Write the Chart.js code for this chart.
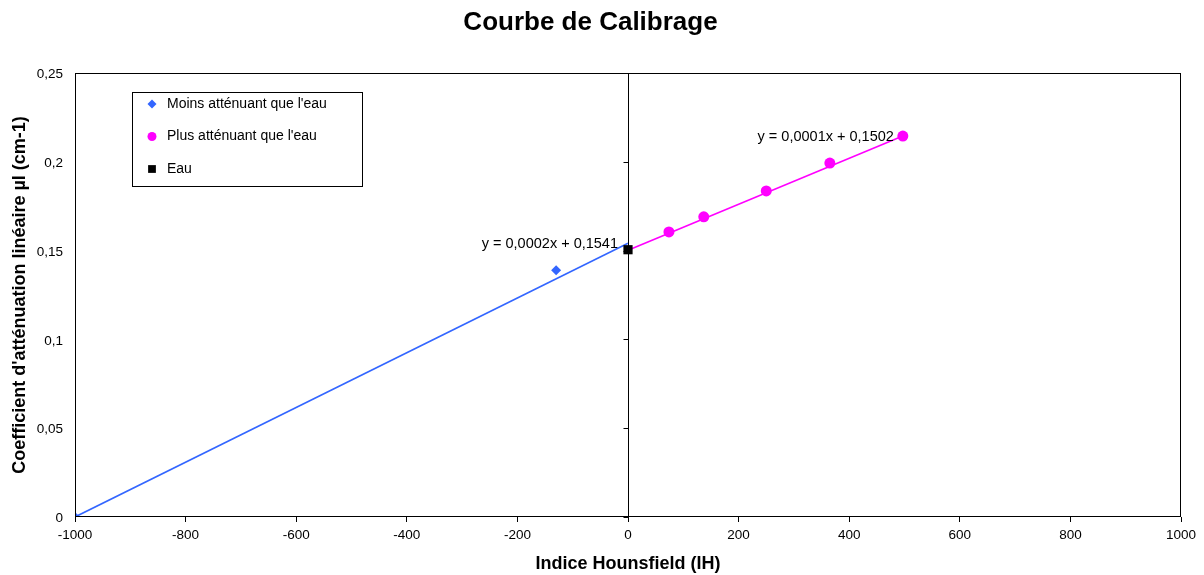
<!DOCTYPE html>
<html>
<head>
<meta charset="utf-8">
<script src="https://cdn.jsdelivr.net/npm/chart.js@4/dist/chart.umd.min.js"></script>
<style>
  html, body { margin: 0; padding: 0; background: #fff; }
  #wrap { width: 1204px; height: 575px; }
</style>
</head>
<body>
<div id="wrap"><canvas id="calib" width="1204" height="575"></canvas></div>
<script>
// data
var lessX = [-1000, -130];
var lessY = [0.0, 0.139];
var moreX = [74, 137, 250, 365, 497];
var moreY = [0.1605, 0.169, 0.1836, 0.1993, 0.2145];
var waterX = [0];
var waterY = [0.1505];
// trend line end points (Excel linear trend)
var lessTrendX = [-1000, 0];
var lessTrendY = [0.0, 0.1541];
var moreTrendX = [0, 497];
var moreTrendY = [0.1502, 0.2145];
var lessEq = "y = 0,0002x + 0,1541";
var moreEq = "y = 0,0001x + 0,1502";
var xTicks = [-1000, -800, -600, -400, -200, 0, 200, 400, 600, 800, 1000];
var yTicks = [0, 0.05, 0.1, 0.15, 0.2, 0.25];

var BLUE = "#3366FF";
var PINK = "#FF00FF";
var FONT = "'Liberation Sans', Arial, sans-serif";

function pts(xs, ys) {
    var out = [];
    for (var i = 0; i < xs.length; i++) out.push({x: xs[i], y: ys[i]});
    return out;
}

function fmt(v) {
    return String(Number(v.toFixed(2))).replace('.', ',');
}

Chart.defaults.font.family = FONT;
Chart.defaults.font.size = 13.5;
Chart.defaults.color = "#000";

// plot area frame, y axis through x = 0, equations and legend box
var excelBits = {
    id: 'excelBits',
    afterDatasetsDraw: function (chart) {
        var ctx = chart.ctx;
        var a = chart.chartArea;
        var xs = chart.scales.x, ys = chart.scales.y;
        ctx.save();
        ctx.strokeStyle = "#000";
        ctx.lineWidth = 1;
        ctx.strokeRect(a.left + 0.5, a.top + 0.5, a.right - a.left - 1, a.bottom - a.top - 1);

        // vertical axis crosses at 0
        var x0 = Math.round(xs.getPixelForValue(0)) + 0.5;
        ctx.beginPath();
        ctx.moveTo(x0, a.top);
        ctx.lineTo(x0, a.bottom);
        yTicks.forEach(function (t) {
            var py = Math.round(ys.getPixelForValue(t)) + 0.5;
            ctx.moveTo(x0 - 5, py);
            ctx.lineTo(x0, py);
        });
        ctx.stroke();

        // trend equations
        ctx.fillStyle = "#000";
        ctx.font = "14.5px " + FONT;
        ctx.textAlign = "right";
        ctx.textBaseline = "middle";
        ctx.fillText(lessEq, xs.getPixelForValue(lessTrendX[1]) - 10, ys.getPixelForValue(lessTrendY[1]) + 0.5);
        ctx.fillText(moreEq, xs.getPixelForValue(moreTrendX[1]) - 9, ys.getPixelForValue(moreTrendY[1]) + 1);

        // legend box
        var lx = a.left + 57, ly = a.top + 19, lw = 230, lh = 94;
        ctx.fillStyle = "#fff";
        ctx.fillRect(lx, ly, lw, lh);
        ctx.strokeRect(lx + 0.5, ly + 0.5, lw, lh);
        var rows = [
            {t: "Moins atténuant que l'eau", s: 'rectRot', c: BLUE, r: 4.5},
            {t: "Plus atténuant que l'eau", s: 'circle', c: PINK, r: 4.5},
            {t: "Eau", s: 'rect', c: "#000", r: 5.5}
        ];
        ctx.font = "14px " + FONT;
        ctx.textAlign = "left";
        rows.forEach(function (row, i) {
            var ry = ly + 12 + i * 32.5;
            ctx.fillStyle = row.c;
            Chart.helpers.drawPoint(ctx, {pointStyle: row.s, radius: row.r, borderWidth: 0}, lx + 20, ry);
            ctx.fillStyle = "#000";
            ctx.fillText(row.t, lx + 35, ry);
        });
        ctx.restore();
    }
};

var ctx = document.getElementById("calib").getContext("2d");
new Chart(ctx, {
    type: 'scatter',
    data: {
        datasets: [
            {
                label: "Eau",
                data: pts(waterX, waterY),
                pointStyle: 'rect',
                pointRadius: 6.5,
                backgroundColor: "#000",
                borderColor: "#000",
                borderWidth: 0,
                order: 0
            },
            {
                label: "Moins atténuant que l'eau",
                data: pts(lessX, lessY),
                pointStyle: 'rectRot',
                pointRadius: 5,
                backgroundColor: BLUE,
                borderColor: BLUE,
                borderWidth: 0,
                order: 1
            },
            {
                label: "Plus atténuant que l'eau",
                data: pts(moreX, moreY),
                pointStyle: 'circle',
                pointRadius: 5.5,
                backgroundColor: PINK,
                borderColor: PINK,
                borderWidth: 0,
                order: 1
            },
            {
                label: "trend less",
                data: pts(lessTrendX, lessTrendY),
                showLine: true,
                pointRadius: 0,
                borderColor: BLUE,
                borderWidth: 1.6,
                order: 2
            },
            {
                label: "trend more",
                data: pts(moreTrendX, moreTrendY),
                showLine: true,
                pointRadius: 0,
                borderColor: PINK,
                borderWidth: 1.6,
                order: 2
            }
        ]
    },
    options: {
        responsive: false,
        animation: false,
        layout: {padding: {left: 0, right: 23, top: 0, bottom: 0}},
        plugins: {
            legend: {display: false},
            tooltip: {enabled: false},
            title: {
                display: true,
                text: "Courbe de Calibrage",
                font: {size: 26, weight: 'bold'},
                color: "#000",
                padding: {top: 7, bottom: 34.8}
            }
        },
        scales: {
            x: {
                type: 'linear',
                min: -1000,
                max: 1000,
                afterFit: function (s) { s.height = 58; },
                afterBuildTicks: function (s) { s.ticks = xTicks.map(function (v) { return {value: v}; }); },
                ticks: {padding: 5, maxRotation: 0, autoSkip: false, callback: function (v) { return String(v); }},
                grid: {drawOnChartArea: false, drawTicks: true, tickLength: 5, color: "#000"},
                border: {display: false},
                title: {
                    display: true,
                    text: "Indice Hounsfield (IH)",
                    font: {size: 18, weight: 'bold'},
                    padding: {top: 0, bottom: 0}
                }
            },
            y: {
                type: 'linear',
                min: 0,
                max: 0.25,
                afterFit: function (s) { s.width = 75; },
                afterBuildTicks: function (s) { s.ticks = yTicks.map(function (v) { return {value: v}; }); },
                ticks: {padding: 12, labelOffset: 1.5, callback: function (v) { return fmt(v); }},
                grid: {display: false, drawTicks: false},
                border: {display: false},
                title: {
                    display: true,
                    text: "Coefficient d'atténuation linéaire µl (cm-1)",
                    font: {size: 18, weight: 'bold'},
                    padding: {top: 9, bottom: 0}
                }
            }
        }
    },
    plugins: [excelBits]
});
</script>
</body>
</html>
